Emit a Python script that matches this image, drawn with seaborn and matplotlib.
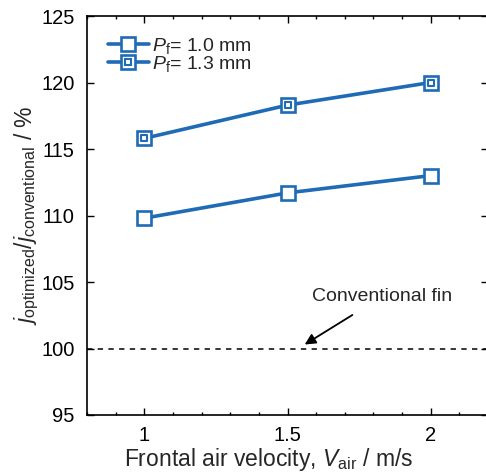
import matplotlib
matplotlib.use("Agg")
import matplotlib.pyplot as plt
from matplotlib.lines import Line2D
from matplotlib.ticker import MultipleLocator
import seaborn as sns
import pandas as pd

velocity = [1.0, 1.5, 2.0]
ratio_pf10 = [109.8, 111.7, 113.0]
ratio_pf13 = [115.8, 118.3, 120.0]
labels = ["$P_\\mathrm{f}$= 1.0 mm", "$P_\\mathrm{f}$= 1.3 mm"]
conventional = 100

sns.set_style("ticks")
plt.rcParams["font.family"] = ["Liberation Sans", "DejaVu Sans"]
plt.rcParams["mathtext.fontset"] = "custom"
plt.rcParams["mathtext.rm"] = "Liberation Sans"
plt.rcParams["mathtext.it"] = "Liberation Sans:italic"

blue = "#1f6bb5"
df = pd.DataFrame({
    "v": velocity * 2,
    "r": ratio_pf10 + ratio_pf13,
    "s": [labels[0]] * 3 + [labels[1]] * 3,
})

fig = plt.figure(figsize=(4.86, 4.76), dpi=100)
ax = fig.add_axes([87 / 486, 61 / 476, 401 / 486, 399 / 476])

sns.lineplot(data=df, x="v", y="r", hue="s", palette=[blue, blue], ax=ax,
             marker="s", markersize=9.5, markerfacecolor="white",
             markeredgecolor=blue, markeredgewidth=1.9, linewidth=2.6,
             legend=False)
d13 = df[df["s"] == labels[1]]
sns.scatterplot(data=d13, x="v", y="r", ax=ax, marker="s", s=15,
                facecolor="white", edgecolor=blue, linewidth=1.5, zorder=5,
                legend=False)

ax.axhline(conventional, color="black", linestyle=(0, (3.5, 3.5)), linewidth=1.1)
ax.annotate("Conventional fin", xy=(1.56, 100.3), xytext=(1.83, 103.9),
            ha="center", va="center", fontsize=14,
            arrowprops=dict(arrowstyle="-|>", color="black", lw=1.3,
                            shrinkA=9, shrinkB=0, mutation_scale=16))

ax.set_xlim(0.8, 2.2)
ax.set_ylim(95, 125)
ax.set_xticks([1, 1.5, 2])
ax.set_xticklabels(["1", "1.5", "2"])
ax.xaxis.set_minor_locator(MultipleLocator(0.1))
ax.set_yticks([95, 100, 105, 110, 115, 120, 125])
ax.tick_params(which="both", direction="in", top=True, right=True, labelsize=14.5, colors="black")
ax.tick_params(which="major", length=5, width=1)
ax.tick_params(which="minor", length=2.5, width=1)
ax.tick_params(axis="x", pad=8)
ax.tick_params(axis="y", pad=9)
for sp in ax.spines.values():
    sp.set_linewidth(1.2)
    sp.set_color("black")
    sp.set_visible(True)

ax.set_xlabel("Frontal air velocity, $V_\\mathrm{air}$ / m/s", fontsize=16.5)
ax.xaxis.set_label_coords(0.452, -0.078)
ax.set_ylabel("$j_\\mathrm{optimized}/j_\\mathrm{conventional}$ / %", fontsize=16.5, labelpad=0)

h1 = Line2D([], [], color=blue, lw=2.6, marker="s", markersize=9.5,
            markerfacecolor="white", markeredgecolor=blue, markeredgewidth=1.9)
h2a = Line2D([], [], color=blue, lw=2.6, marker="s", markersize=9.5,
             markerfacecolor="white", markeredgecolor=blue, markeredgewidth=1.9)
h2b = Line2D([], [], color=blue, lw=0, marker="s", markersize=3.8,
             markerfacecolor="white", markeredgecolor=blue, markeredgewidth=1.5)
ax.legend([h1, (h2a, h2b)], labels, loc="upper left", frameon=False,
          fontsize=14, handlelength=2.1, handletextpad=0.2, labelspacing=-0.1,
          borderaxespad=0.4, bbox_to_anchor=(0.013, 0.99))

fig.savefig("out.png", dpi=100)
